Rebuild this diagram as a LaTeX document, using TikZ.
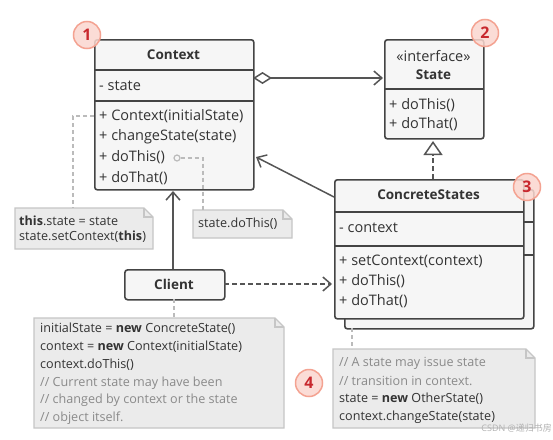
\documentclass[tikz,border=0pt]{standalone}
\usepackage{fontspec}
\setmainfont{Open Sans}
\newfontfamily\cjkfont{Noto Sans CJK SC}
\usetikzlibrary{arrows.meta,calc}
\definecolor{boxline}{HTML}{444444}
\definecolor{boxfill}{HTML}{F6F6F6}
\definecolor{notefill}{HTML}{EBEBEB}
\definecolor{noteline}{HTML}{C6C6C6}
\definecolor{relline}{HTML}{555555}
\definecolor{linkline}{HTML}{BBBBBB}
\definecolor{comment}{HTML}{8A8A8A}
\definecolor{badgefill}{HTML}{FBD7CF}
\definecolor{badgeline}{HTML}{F4A291}
\definecolor{badgetext}{HTML}{C8282E}
\tikzset{
  umlbox/.style={draw=boxline, fill=boxfill, line width=1.6pt, rounded corners=2.5pt, inner sep=0pt},
  sepline/.style={draw=boxline, line width=1.6pt},
  txt/.style={inner sep=0pt, anchor=west, font=\fontsize{14.5}{16}\selectfont, text=black!80},
  ttl/.style={inner sep=0pt, font=\fontsize{13.5}{15}\selectfont\bfseries, text=black!80},
  notetxt/.style={inner sep=0pt, anchor=west, font=\fontsize{12.6}{14}\selectfont, text=black!80},
  badge/.style={circle, draw=badgeline, fill=badgefill, fill opacity=0.85, text opacity=1, line width=1.5pt, minimum size=27pt, inner sep=0pt, font=\fontsize{16}{16}\selectfont\bfseries, text=badgetext},
  rel/.style={draw=relline, line width=1.5pt},
  barb/.style={-{Straight Barb[length=8pt,width=14pt,line width=1.5pt]}},
  dashrel/.style={dash pattern=on 5pt off 3pt},
  link/.style={draw=linkline, line width=1.4pt, dash pattern=on 4pt off 3pt},
}
\newcommand{\notebox}[5]{% name, x1, y1, x2, y2
  \coordinate (#1-nw) at (#2,#3);
  \coordinate (#1-se) at (#4,#5);
  \filldraw[draw=noteline, fill=notefill, line width=1.3pt]
    (#2,#3) -- (#4-9,#3) -- (#4,#3+9) -- (#4,#5) -- (#2,#5) -- cycle;
  \draw[draw=noteline, line width=1.1pt] (#4-9,#3) -- (#4-9,#3+9) -- (#4,#3+9);
}
\begin{document}
\begin{tikzpicture}[x=1pt,y=-1pt]
\useasboundingbox (0,0) rectangle (553,439);
\fill[white] (0,0) rectangle (553,439);

% ---------- Context ----------
\node[umlbox, minimum width=159pt, minimum height=150pt, anchor=north west] (ctx) at (94,39) {};
\draw[sepline] (94,70) -- (253,70);
\draw[sepline] (94,101) -- (253,101);
\node[ttl] (ctxt) at (173.5,55) {Context};
\node[txt] (ctxa) at (99,86) {- state};
\node[txt] (ctxm1) at (99,116) {+ Context(initialState)};
\node[txt] (ctxm2) at (99,137) {+ changeState(state)};
\node[txt] (ctxm3) at (99,157) {+ doThis()};
\node[txt] (ctxm4) at (99,178) {+ doThat()};

% ---------- State ----------
\node[umlbox, minimum width=99pt, minimum height=99pt, anchor=north west] (st) at (384,39) {};
\draw[sepline] (384,89) -- (483,89);
\node[inner sep=0pt, font=\fontsize{14.5}{16}\selectfont, text=black!80] (stst) at (433.5,56) {«interface»};
\node[ttl] (stt) at (433.5,75) {State};
\node[txt] (stm1) at (389,105) {+ doThis()};
\node[txt] (stm2) at (389,124) {+ doThat()};

% ---------- ConcreteStates ----------
\node[umlbox, minimum width=189pt, minimum height=139pt, anchor=north west] (csb) at (344,189) {};
\draw[sepline] (513,222) -- (533,222);
\draw[sepline] (513,255) -- (533,255);
\node[umlbox, minimum width=189pt, minimum height=139pt, anchor=north west] (cs) at (334,179) {};
\draw[sepline] (334,212) -- (523,212);
\draw[sepline] (334,246) -- (523,246);
\node[ttl] (cst) at (428.5,195) {ConcreteStates};
\node[txt] (csa) at (339,228) {- context};
\node[txt] (csm1) at (339,261) {+ setContext(context)};
\node[txt] (csm2) at (339,281) {+ doThis()};
\node[txt] (csm3) at (339,301) {+ doThat()};

% ---------- Client ----------
\node[umlbox, minimum width=100pt, minimum height=30pt, anchor=north west, rounded corners=3pt] (cl) at (124,269) {};
\node[ttl] (clt) at (174,284) {Client};

% ---------- Relations ----------
\coordinate (aggS) at (253,78);
\coordinate (aggE) at (383,78);
\draw[rel, {Diamond[open,length=19pt,width=12pt,line width=1.5pt]}-{Straight Barb[length=8pt,width=14pt,line width=1.5pt]}] (aggS) -- (aggE);

\coordinate (inhS) at (433,179);
\coordinate (inhE) at (433,141);
\draw[rel, dashrel, -{Triangle[open,length=14pt,width=19pt,line width=1.5pt]}] (inhS) -- (inhE);

\coordinate (assS) at (334,197);
\coordinate (assE) at (256,157);
\draw[rel, barb] (assS) -- (assE);

\coordinate (clUp) at (173,269);
\coordinate (ctxBot) at (173,191);
\draw[rel, barb] (clUp) -- (ctxBot);

\coordinate (clR) at (224,284);
\coordinate (csL) at (332,284);
\draw[rel, dashrel, barb] (clR) -- (csL);

% ---------- Notes ----------
\notebox{n1}{15}{208}{153}{249}
\node[notetxt] (n1a) at (19,221) {\textbf{this}.state = state};
\node[notetxt] (n1b) at (19,237) {state.setContext(\textbf{this})};

\notebox{n2}{193}{210}{292}{238}
\node[notetxt] (n2a) at (198,224) {state.doThis()};

\notebox{n3}{34}{318}{284}{428}
\node[notetxt] (n3a) at (40,329) {initialState = \textbf{new} ConcreteState()};
\node[notetxt] (n3b) at (40,347) {context = \textbf{new} Context(initialState)};
\node[notetxt] (n3c) at (40,365) {context.doThis()};
\node[notetxt, text=comment] (n3d) at (40,383) {// Current state may have been};
\node[notetxt, text=comment] (n3e) at (40,400) {// changed by context or the state};
\node[notetxt, text=comment] (n3f) at (40,418) {// object itself.};

\notebox{n4}{333}{349}{535}{428}
\node[notetxt, text=comment] (n4a) at (339,363) {// A state may issue state};
\node[notetxt, text=comment] (n4b) at (339,381) {// transition in context.};
\node[notetxt] (n4c) at (339,399) {state = \textbf{new} OtherState()};
\node[notetxt] (n4d) at (339,417) {context.changeState(state)};

% ---------- Note links ----------
\coordinate (l1a) at (94,116);
\coordinate (l1b) at (73,208);
\draw[link] (l1a) -| (l1b);

\node[circle, draw=linkline, line width=1.2pt, minimum size=6pt, inner sep=0pt] (dot) at (177,158) {};
\coordinate (l2b) at (203,210);
\draw[link] (dot.east) -| (l2b);

\coordinate (l3a) at (174,299);
\coordinate (l3b) at (174,318);
\draw[link] (l3a) -- (l3b);

\coordinate (l4a) at (352,328);
\coordinate (l4b) at (352,349);
\draw[link] (l4a) -- (l4b);

% ---------- Badges ----------
\node[badge] (b1) at (87,35) {1};
\node[badge] (b2) at (485,33) {2};
\node[badge] (b3) at (527,187) {3};
\node[badge] (b4) at (309,383) {4};

% ---------- Watermark ----------
\node[inner sep=0pt, anchor=east, font=\fontsize{9}{10}\selectfont, text=black!30] (wm) at (552,428) {CSDN @{\cjkfont 递归书房}};
\end{tikzpicture}
\end{document}
